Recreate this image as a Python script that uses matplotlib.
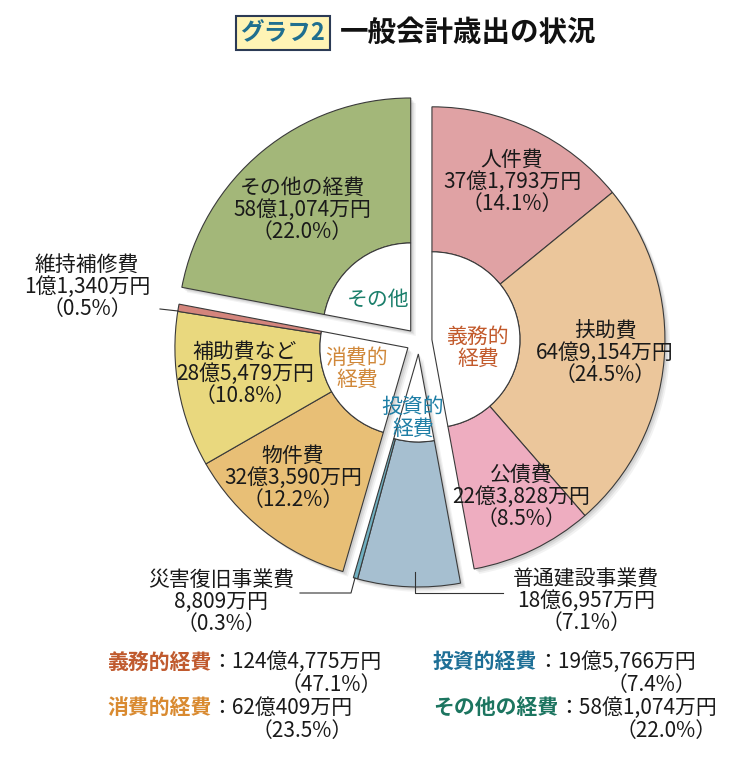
import matplotlib
matplotlib.use('Agg')
import matplotlib.pyplot as plt
import numpy as np

plt.rcParams['font.family'] = ['Noto Sans CJK JP', 'DejaVu Sans']

# ---- data ----
group_names = ['義務的\n経費', '投資的\n経費', '消費的\n経費', 'その他']
item_names = [['人件費', '扶助費', '公債費'],
              ['普通建設事業費', '災害復旧事業費'],
              ['物件費', '補助費など', '維持補修費'],
              ['その他の経費']]
item_amounts = [['37億1,793万円', '64億9,154万円', '22億3,828万円'],
                ['18億6,957万円', '8,809万円'],
                ['32億3,590万円', '28億5,479万円', '1億1,340万円'],
                ['58億1,074万円']]
item_shares = [[14.1, 24.5, 8.5],
               [7.1, 0.3],
               [12.2, 10.8, 0.5],
               [22.0]]

summary_names = ['義務的経費', '消費的経費', '投資的経費', 'その他の経費']
summary_amounts = ['124億4,775万円', '62億409万円', '19億5,766万円', '58億1,074万円']
summary_shares = [47.1, 23.5, 7.4, 22.0]

# ---- styling ----
item_colors = [['#E0A2A4', '#EBC69B', '#EEADC0'],
               ['#A6BFD0', '#6FAFC0'],
               ['#E8BF76', '#E9D87E', '#D4857C'],
               ['#A3B779']]
group_colors = ['#C25A2C', '#1F7FA6', '#D0883A', '#1B7F6B']
summary_colors = ['#C05A2E', '#D98A30', '#1E6F96', '#1C7560']

H = 784
def Y(y):
    return H - y

R = 233
R_IN = 88
CX, CY = 419, Y(341)
EXPLODE = 13
FS = 15
EDGE = '#3a3a3a'

fig = plt.figure(figsize=(7.5, 7.84), dpi=100)
ax = fig.add_axes([0, 0, 1, 1])

totals = [sum(s) for s in item_shares]
starts = np.concatenate([[0], np.cumsum(totals)[:-1]])
centers = []
for tot, st in zip(totals, starts):
    mid = np.deg2rad(90 - 3.6 * (st + tot / 2))
    centers.append((CX + EXPLODE * np.cos(mid), CY + EXPLODE * np.sin(mid)))

# soft shadows
for tot, st, (cx, cy) in zip(totals, starts, centers):
    for k, a in [(5, 0.10), (3.5, 0.14), (2, 0.18)]:
        ax.pie([tot / 100], normalize=False, startangle=90 - 3.6 * st,
               counterclock=False, radius=R, center=(cx + k, cy - k),
               colors=['#808080'], wedgeprops=dict(linewidth=0, alpha=a))

# wedges
for g, (tot, st, (cx, cy)) in enumerate(zip(totals, starts, centers)):
    ax.pie([s / 100 for s in item_shares[g]], normalize=False,
           startangle=90 - 3.6 * st, counterclock=False, radius=R,
           center=(cx, cy), colors=item_colors[g],
           wedgeprops=dict(width=R - R_IN, edgecolor=EDGE, linewidth=0.8))
    ax.pie([tot / 100], normalize=False, startangle=90 - 3.6 * st,
           counterclock=False, radius=R_IN, center=(cx, cy), colors=['white'],
           wedgeprops=dict(edgecolor=EDGE, linewidth=0.8))

# group labels inside the white centre
group_label_pos = [(478, 348), (413, 418), (357, 369), (378, 300)]
for name, col, (x, y) in zip(group_names, group_colors, group_label_pos):
    ax.text(x, Y(y), name, color=col, fontsize=FS, ha='center', va='center',
            linespacing=1.0)

# item labels
label_pos = [[(512, 182), (605, 353), (521, 497)],
             [(586, 601), (221, 602)],
             [(293, 478), (245, 374), (87, 287)],
             [(302, 210)]]
for g in range(len(item_names)):
    for name, amt, sh, (x, y) in zip(item_names[g], item_amounts[g],
                                     item_shares[g], label_pos[g]):
        ax.text(x, Y(y), f'{name}\n{amt}\n（{sh}%）', fontsize=FS,
                ha='center', va='center', linespacing=1.0, color='#1a1a1a')

# leader lines
leaders = [([415, 415, 503], [572, 593, 593]),
           ([355, 351, 300], [578, 593, 593]),
           ([178, 160], [311, 309])]
for xs, ys in leaders:
    ax.plot(xs, [Y(v) for v in ys], color='#333333', linewidth=0.8)

# summary block
summary_pos = [(107, 662), (107, 708), (433, 662), (433, 708)]
SFS = 15
for name, amt, sh, col, (x, y) in zip(summary_names, summary_amounts,
                                     summary_shares, summary_colors, summary_pos):
    t1 = ax.text(x, Y(y), name, color=col, fontsize=SFS, fontweight='bold',
                 ha='left', va='center')
    t2 = ax.annotate('：' + amt, xy=(1, Y(y)), xycoords=(t1, 'data'),
                     fontsize=SFS, ha='left', va='center', color='#1a1a1a')
    ax.annotate(f'（{sh}%）', xy=(1, Y(y + 23)), xycoords=(t2, 'data'),
                fontsize=SFS, ha='right', va='center', color='#1a1a1a')

# title
ax.text(283, Y(33), 'グラフ2', fontsize=17, fontweight='bold', color='#1F6F8F',
        ha='center', va='center',
        bbox=dict(boxstyle='square,pad=0.2', facecolor='#FFF4B5',
                  edgecolor='#2b3a55', linewidth=1.5))
ax.text(340, Y(33), '一般会計歳出の状況', fontsize=20.5, fontweight='bold',
        color='#111111', ha='left', va='center')

ax.set_xlim(0, 750)
ax.set_ylim(0, H)
ax.set_aspect('equal')
ax.axis('off')

fig.savefig('out.png', dpi=100)
